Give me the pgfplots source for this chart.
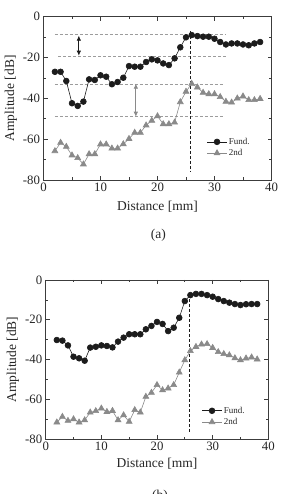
\documentclass[border=0pt]{standalone}
\usepackage{pgfplots}
\pgfplotsset{compat=1.18}
\usepackage{pgfplotstable}
\usepackage{fontspec}
\setmainfont{Liberation Serif}
\usetikzlibrary{arrows.meta}

\definecolor{fundc}{HTML}{1C1C1C}
\definecolor{secc}{HTML}{8A8A8A}
\definecolor{framec}{HTML}{3C3C3C}
\definecolor{guidec}{HTML}{9C9C9C}

% (a) amplitude vs. distance
\pgfplotstableread{
x fund sec
2 -27.0 -65.8
3 -27.0 -61.7
4 -31.5 -63.7
5 -42.4 -67.9
6 -43.7 -69.2
7 -41.6 -72.3
8 -30.7 -67.3
9 -31.0 -67.3
10 -28.7 -62.5
11 -29.4 -62.5
12 -33.1 -64.5
13 -32.0 -64.5
14 -29.9 -62.4
15 -24.2 -59.8
16 -24.5 -56.8
17 -24.5 -56.8
18 -22.2 -53.2
19 -20.9 -50.9
20 -21.4 -48.7
21 -22.9 -52.6
22 -23.7 -52.6
23 -20.4 -51.8
24 -15.0 -41.8
25 -10.1 -36.7
26 -9.0 -32.8
27 -9.5 -34.6
28 -9.8 -37.2
29 -9.8 -37.9
30 -10.8 -37.9
31 -12.4 -39.3
32 -13.6 -41.6
33 -13.1 -42.0
34 -13.1 -40.0
35 -13.6 -39.0
36 -14.0 -40.8
37 -13.1 -40.8
38 -12.4 -40.2
}\tableA

% (b) amplitude vs. distance
\pgfplotstableread{
x fund sec
2 -30.2 -71.6
3 -30.5 -68.8
4 -32.9 -70.8
5 -38.6 -70.0
6 -39.4 -71.6
7 -40.6 -70.5
8 -34.0 -66.6
9 -33.6 -65.9
10 -32.9 -64.6
11 -33.2 -66.3
12 -33.9 -65.8
13 -31.0 -70.5
14 -29.0 -68.0
15 -27.3 -71.3
16 -27.3 -65.4
17 -27.3 -66.6
18 -24.8 -58.7
19 -23.1 -56.7
20 -21.1 -52.8
21 -22.1 -55.4
22 -25.7 -54.5
23 -24.0 -52.8
24 -19.0 -46.5
25 -10.6 -40.3
26 -7.6 -35.7
27 -7.0 -33.6
28 -7.0 -32.4
29 -7.6 -32.2
30 -8.4 -34.1
31 -9.6 -36.2
32 -10.6 -37.2
33 -11.4 -37.8
34 -12.1 -39.3
35 -12.6 -40.3
36 -12.2 -39.4
37 -12.1 -38.9
38 -12.1 -39.9
}\tableB

\pgfplotsset{
  ampaxis/.style={
    scale only axis,
    anchor=south west,
    xmin=0, xmax=40, ymin=-80, ymax=0,
    xtick={0,10,20,30,40}, ytick={-80,-60,-40,-20,0},
    minor x tick num=1, minor y tick num=1,
    tick align=inside,
    major tick length=4pt, minor tick length=2.5pt,
    axis line style={framec, line width=0.8pt},
    every tick/.style={framec, line width=0.7pt},
    /pgf/number format/assume math mode=true,
    tick label style={font=\fontsize{12.8}{14}\selectfont, text=black!85},
    xticklabel style={yshift=1pt},
    xlabel={Distance [mm]}, ylabel={Amplitude [dB]},
    every axis y label/.style={at={(rel axis cs:0,0.5)}, xshift=-32.7pt,
      rotate=90, anchor=center, font=\fontsize{13.5}{15}\selectfont, text=black!85},
    legend style={draw=none, fill=none, anchor=north west, inner sep=0pt,
      font=\fontsize{9}{10}\selectfont, row sep=0.5pt,
      nodes={inner sep=1.5pt, text=black!85}},
    legend cell align=left,
    legend image code/.code={
      \draw[mark repeat=2,mark phase=2,#1] plot coordinates {(0pt,0pt) (10pt,0pt) (20pt,0pt)};},
  },
  fund/.style={fundc, line width=0.6pt, mark=*, mark size=2.9pt, mark options={fundc, fill=fundc}},
  sec/.style={secc, line width=0.6pt, mark=triangle*, mark size=3.4pt, mark options={secc, fill=secc}},
  guide/.style={guidec, line width=0.6pt, dash pattern=on 3pt off 2pt, forget plot, mark=none},
  marker/.style={fundc, line width=0.9pt, dash pattern=on 3pt off 2pt, forget plot, mark=none},
}

\begin{document}
\begin{tikzpicture}
% ---------------- (a) ----------------
\begin{axis}[ampaxis, at={(43.5pt,314pt)}, width=228pt, height=163.3pt,
  every axis x label/.style={at={(rel axis cs:0.5,0)}, yshift=-26.7pt,
    anchor=center, font=\fontsize{13.5}{15}\selectfont, text=black!85},
  legend style={at={(axis cs:28.6,-58.6)}}]
  \addplot[guide] coordinates {(2,-8.7) (31.9,-8.7)};
  \addplot[guide] coordinates {(2.6,-19.6) (32.2,-19.6)};
  \addplot[guide] coordinates {(2,-33) (31.6,-33)};
  \addplot[guide] coordinates {(2,-49) (31.6,-49)};
  \addplot[marker] coordinates {(25.7,-6.9) (25.7,-76)};
  \draw[fundc, line width=0.7pt, {Latex[length=5pt,width=4.5pt]}-{Latex[length=5pt,width=4.5pt]}]
    (axis cs:6.2,-9.3) -- (axis cs:6.2,-19.1);
  \draw[secc, line width=0.7pt, {Latex[length=5pt,width=4.5pt]}-{Latex[length=5pt,width=4.5pt]}]
    (axis cs:16.2,-32.8) -- (axis cs:16.2,-49);
  \addplot[fund] table[x=x, y=fund] {\tableA};
  \addlegendentry{Fund.}
  \addplot[sec] table[x=x, y=sec] {\tableA};
  \addlegendentry{2nd}
\end{axis}
\node[font=\fontsize{13.5}{15}\selectfont, text=black!85] at (158.3pt,259pt) {(a)};

% ---------------- (b) ----------------
\begin{axis}[ampaxis, at={(45.7pt,55pt)}, width=222.6pt, height=159pt,
  every axis x label/.style={at={(rel axis cs:0.5,0)}, yshift=-24.5pt,
    anchor=center, font=\fontsize{13.5}{15}\selectfont, text=black!85},
  legend style={at={(axis cs:28.0,-63.0)}}]
  \addplot[marker] coordinates {(25.8,-7) (25.8,-76.3)};
  \addplot[fund] table[x=x, y=fund] {\tableB};
  \addlegendentry{Fund.}
  \addplot[sec] table[x=x, y=sec] {\tableB};
  \addlegendentry{2nd}
\end{axis}
\node[font=\fontsize{13.5}{15}\selectfont, text=black!85, anchor=north, inner sep=0pt] at (160pt,4.5pt) {(b)};

\pgfresetboundingbox
\useasboundingbox (0pt,0pt) rectangle (283pt,494pt);
\end{tikzpicture}
\end{document}
